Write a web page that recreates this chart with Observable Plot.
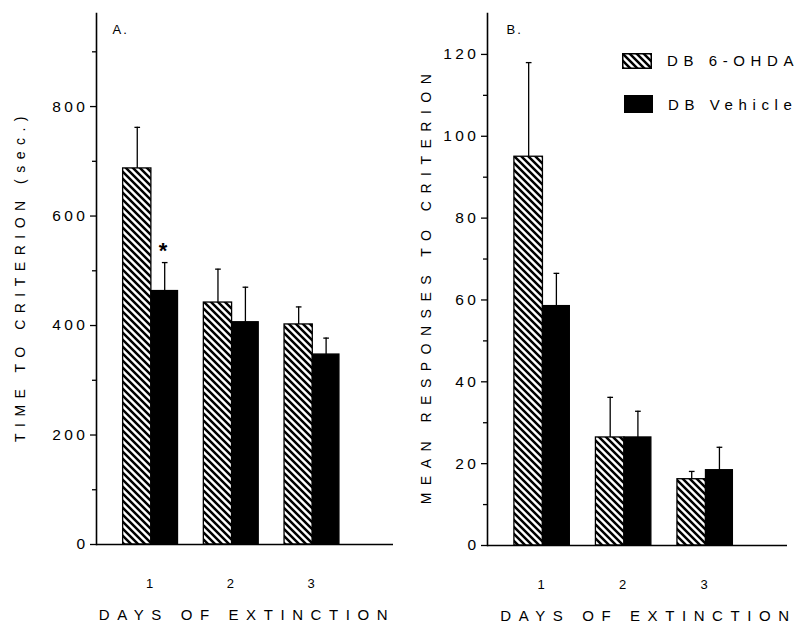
<!DOCTYPE html>
<html><head><meta charset="utf-8">
<script src="https://cdn.jsdelivr.net/npm/d3@7"></script>
<script src="https://cdn.jsdelivr.net/npm/@observablehq/plot@0.6"></script>
<style>
html,body{margin:0;padding:0;background:#fff;}
#wrap{position:relative;width:799px;height:626px;overflow:hidden;background:#fff;font-family:'Liberation Sans',Arial,sans-serif;color:#000;}
.panel{position:absolute;top:0;}
.panel svg text{letter-spacing:3.5px;}
.leg{position:absolute;display:flex;align-items:center;font-size:15px;letter-spacing:5.6px;white-space:nowrap;}
.leg svg{display:block;margin-right:15px;}
</style></head><body>
<svg width="0" height="0" style="position:absolute">
 <defs>
  <pattern id="hatch" patternUnits="userSpaceOnUse" width="7" height="7">
   <rect width="7" height="7" fill="white"/>
   <path d="M0,0L7,7M-1,6L1,8M6,-1L8,1" stroke="black" stroke-width="2.5"/>
  </pattern>
 </defs>
</svg>
<div id="wrap">
  <div id="pA" class="panel" style="left:0"></div>
  <div id="pB" class="panel" style="left:400px"></div>
  <div class="leg" style="left:622px;top:52px;height:17px">
    <svg width="30" height="16"><rect x="0.75" y="0.75" width="28.5" height="14.5" fill="url(#hatch)" stroke="black" stroke-width="1.5"/></svg>
    <span>DB 6-OHDA</span>
  </div>
  <div class="leg" style="left:624px;top:95px;height:18px">
    <svg width="29" height="18"><rect width="29" height="18" fill="black"/></svg>
    <span style="margin-left:0">DB Vehicle</span>
  </div>
</div>
<script>
// ---- data ----
const days = [1, 2, 3];
const groups = ["DB 6-OHDA", "DB Vehicle"];
// Panel A: time to criterion (sec.)
const timeOhda = [687, 442, 402];
const timeOhdaErr = [75, 61, 32];
const timeVehicle = [463, 406, 347];
const timeVehicleErr = [52, 64, 30];
// Panel B: mean responses to criterion
const respOhda = [95, 26.4, 16.2];
const respOhdaErr = [23, 9.8, 1.9];
const respVehicle = [58.5, 26.4, 18.4];
const respVehicleErr = [8, 6.4, 5.6];
// tick labels
const timeTicks = [0, 200, 400, 600, 800];
const timeMinor = [100, 300, 500, 700, 900];
const respTicks = [0, 20, 40, 60, 80, 100, 120];
const respMinor = [10, 30, 50, 70, 90, 110];
// significance marker (day, group)
const stars = [{day: 1, group: "DB Vehicle"}];

function rowsFor(a, aErr, b, bErr) {
  const out = [];
  days.forEach((d, i) => {
    out.push({day: d, group: groups[0], x1: d - 0.35, x2: d, value: a[i], err: aErr[i]});
    out.push({day: d, group: groups[1], x1: d, x2: d + 0.33, value: b[i], err: bErr[i]});
  });
  return out;
}

function panel(opts) {
  const rows = rowsFor(...opts.series);
  const c = d => (d.x1 + d.x2) / 2;
  const top = d => d.value + d.err;
  const starRows = stars.map(s => rows.find(r => r.day === s.day && r.group === s.group));
  const marks = [
    Plot.rectY(rows.filter(r => r.group === groups[0]), {x1: "x1", x2: "x2", y1: 0, y2: "value", fill: "url(#hatch)", stroke: "black", strokeWidth: 1.3}),
    Plot.rectY(rows.filter(r => r.group === groups[1]), {x1: "x1", x2: "x2", y1: 0, y2: "value", fill: "black", stroke: "black", strokeWidth: 1.3}),
    Plot.ruleX(rows, {x: c, y1: "value", y2: top, stroke: "black", strokeWidth: 1.3}),
    Plot.link(rows, {x1: d => c(d) - 0.035, x2: d => c(d) + 0.035, y1: top, y2: top, stroke: "black", strokeWidth: 1.3}),
    Plot.ruleY([0], {stroke: "black", strokeWidth: 1.6}),
    Plot.frame({anchor: "left", stroke: "black", strokeWidth: 1.6}),
    Plot.axisY(opts.ticks, {tickSize: 6, tickPadding: 2, fontSize: 15.5, label: null, strokeWidth: 1.3}),
    Plot.axisY(opts.minor, {tickSize: 4, tickFormat: () => "", label: null, strokeWidth: 1.3}),
    Plot.axisX(days, {tickSize: 0, tickPadding: 34, fontSize: 13, label: null, tickFormat: d => String(d)}),
    Plot.text([opts.xTitle], {text: d => d, frameAnchor: "bottom", textAnchor: "middle", lineAnchor: "middle", dx: opts.xTitleDx, dy: 71, fontSize: 15}),
    Plot.text([opts.yTitle], {text: d => d, frameAnchor: "left", textAnchor: "middle", lineAnchor: "middle", rotate: -90, dx: opts.yTitleDx, dy: opts.yTitleDy, fontSize: 14}),
    Plot.text([opts.letter], {text: d => d, frameAnchor: "top-left", textAnchor: "start", lineAnchor: "top", dx: opts.letterDx, dy: 11, fontSize: 13})
  ];
  if (opts.star) marks.push(Plot.text(starRows, {x: c, y: top, text: () => "*", dy: -12, fontSize: 22, fontWeight: "bold"}));
  const svg = Plot.plot({
    width: opts.width, height: 626,
    marginLeft: opts.ml, marginRight: opts.mr, marginTop: 13, marginBottom: opts.mb,
    x: {type: "linear", domain: [0.32, 4.0]},
    y: {domain: opts.domain},
    style: {fontFamily: "'Liberation Sans', Arial, sans-serif", background: "white", color: "black", overflow: "visible"},
    marks
  });
  d3.select(svg).selectAll("text").each(function() {
    const t = this.textContent;
    if (t === opts.xTitle) this.style.letterSpacing = "7.6px";
    if (t === opts.yTitle) this.style.letterSpacing = opts.yTitleLs;
    if (t === opts.letter) this.style.letterSpacing = "2px";
  });
  return svg;
}

document.getElementById("pA").appendChild(panel({
  series: [timeOhda, timeOhdaErr, timeVehicle, timeVehicleErr],
  ticks: timeTicks, minor: timeMinor, domain: [0, 970],
  width: 400, ml: 96, mr: 7, mb: 82,
  xTitle: "DAYS OF EXTINCTION", yTitle: "TIME TO CRITERION (sec.)", xTitleDx: 2,
  yTitleDx: -76, yTitleDy: -3, yTitleLs: "6.5px",
  letter: "A.", letterDx: 16, star: true
}));
document.getElementById("pB").appendChild(panel({
  series: [respOhda, respOhdaErr, respVehicle, respVehicleErr],
  ticks: respTicks, minor: respMinor, domain: [0, 130],
  width: 399, ml: 87, mr: 12, mb: 81,
  xTitle: "DAYS OF EXTINCTION", yTitle: "MEAN RESPONSES TO CRITERION", xTitleDx: 11,
  yTitleDx: -61, yTitleDy: 6, yTitleLs: "7.5px",
  letter: "B.", letterDx: 19, star: false
}));
</script>
</body></html>
